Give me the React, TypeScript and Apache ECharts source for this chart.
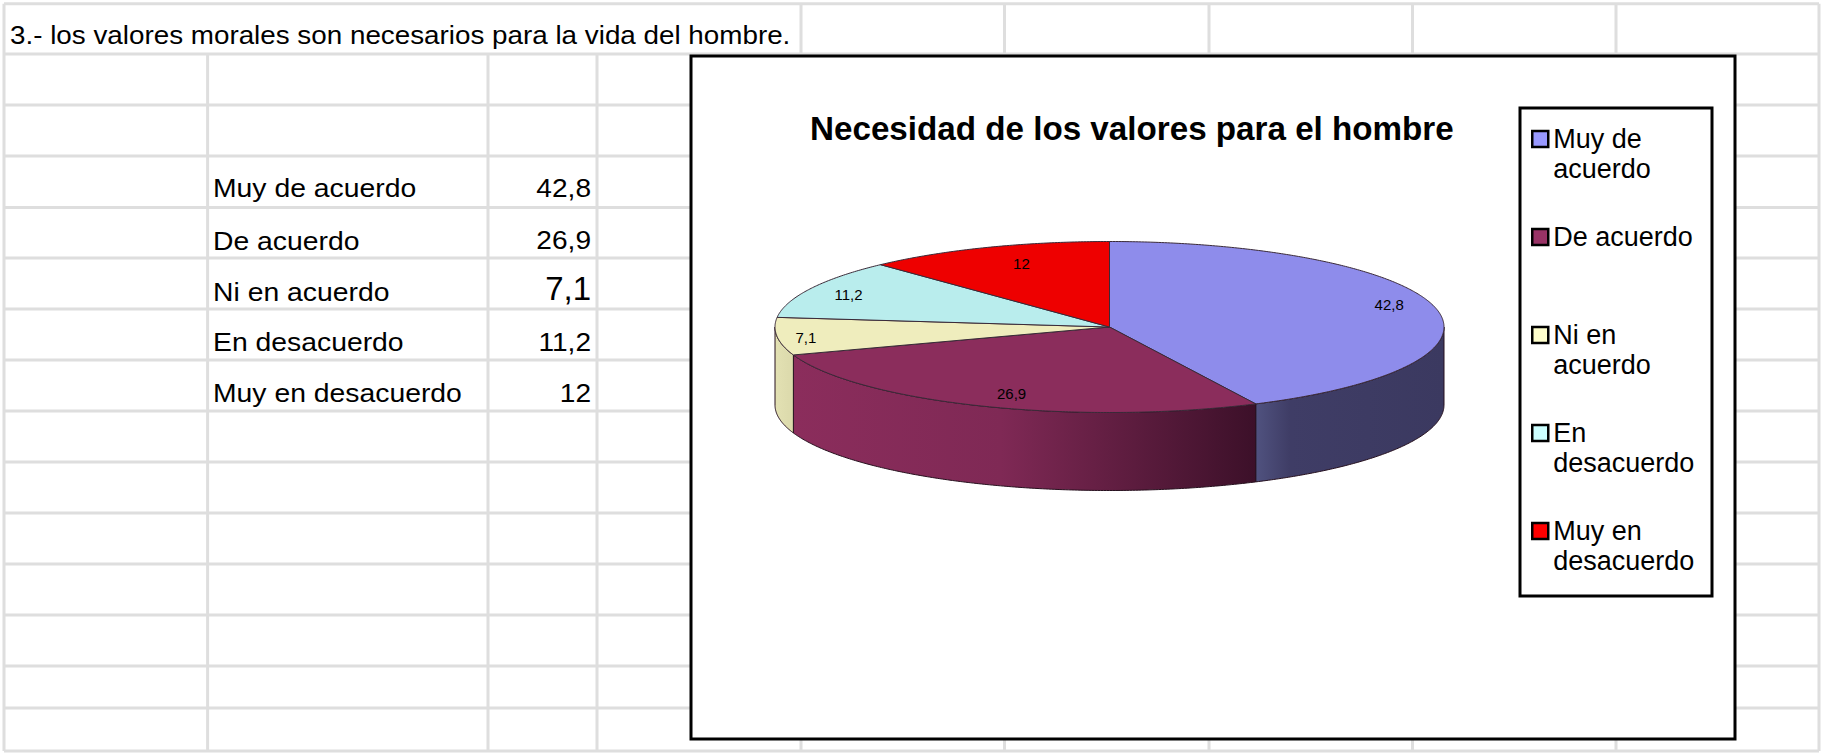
import React, { useEffect, useRef } from "react";
import * as echarts from "echarts";

const categories = ["Muy de acuerdo", "De acuerdo", "Ni en acuerdo", "En desacuerdo", "Muy en desacuerdo"];
const values = [42.8, 26.9, 7.1, 11.2, 12];
const legendTexts = [" \nMuy de\nacuerdo", " \nDe acuerdo\n ", " \nNi en\nacuerdo", " \nEn\ndesacuerdo", " \nMuy en\ndesacuerdo"];
const sheetHeading = "3.- los valores morales son necesarios para la vida del hombre.";
const chartTitle = "Necesidad de los valores para el hombre";

const topColors = ["#8e8ceb", "#8b2d5c", "#efedbd", "#b9eded", "#ee0000"];
const legendColors = ["#9999ff", "#993366", "#ffffcc", "#ccffff", "#ff0000"];
const sideStops: [number, string][][] = [
  [[0, "#50527f"], [0.18, "#3f3d66"], [1, "#3b3960"]],
  [[0, "#8b2d5c"], [0.45, "#7f2955"], [1, "#3c1029"]],
  [[0, "#e3e1b3"], [1, "#dbd9ab"]],
  [[0, "#b9eded"], [1, "#b9eded"]],
  [[0, "#ee0000"], [1, "#ee0000"]],
];

// layout of the sheet
const colX = [207.6, 488, 597];
const colXFull = [4, 801, 1004.5, 1209, 1412.5, 1616, 1819];
const rowY = [3.8, 54, 105, 156, 207.5, 258, 309, 360, 411, 462, 513, 564, 615, 666, 708, 751];
const rowTextY = [188, 240.5, 291.5, 342, 393];
const valueTextY = [188, 240.5, 288, 342, 393];
const valueFont = [26, 26, 33, 26, 26];
const valueScale = [1.08, 1.08, 1, 1.08, 1.08];

// layout of the pie
const CX = 1109.5, CY = 327, RA = 334.5, RB = 85.5, DEPTH = 78;
const labelRX = [0.858, 0.765, 0.913, 0.873, 0.715];
const labelRY = [1.15, 0.848, 1.17, 0.835, 0.805];

const FONT = "'Liberation Sans', Arial, sans-serif";
const GRID = "#dedede";

const total = values.reduce((a, b) => a + b, 0);
const starts = values.map((_, i) => values.slice(0, i).reduce((a, b) => a + b, 0));
const fmt = (v: number) => String(v).replace(".", ",");

const pt = (deg: number, k = 1, dy = 0): [number, number] => {
  const r = (deg * Math.PI) / 180;
  return [CX + RA * k * Math.sin(r), CY - RB * k * Math.cos(r) + dy];
};
const arc = (from: number, to: number, dy = 0) => {
  const out: [number, number][] = [];
  const n = Math.max(2, Math.ceil(Math.abs(to - from) * 2));
  for (let i = 0; i <= n; i++) out.push(pt(from + ((to - from) * i) / n, 1, dy));
  return out;
};

const makeRender = (idx: number) => (_params: any, api: any) => {
  const val = api.value(0) as number;
  const start = api.value(1) as number;
  const a0 = (start / total) * 360;
  const a1 = ((start + val) / total) * 360;
  const mid = (a0 + a1) / 2;
  const children: any[] = [];
  const s0 = Math.max(a0, 90), s1 = Math.min(a1, 270);
  if (s1 > s0) {
    children.push({
      type: "polygon",
      shape: { points: [...arc(s0, s1), ...arc(s1, s0, DEPTH)] },
      style: {
        fill: {
          type: "linear", x: 0, y: 0, x2: 1, y2: 0,
          colorStops: sideStops[idx].map(([offset, color]) => ({ offset, color })),
        },
        stroke: "#26101e", lineWidth: 1,
      },
    });
  }
  children.push({
    type: "polygon",
    shape: { points: [[CX, CY], ...arc(a0, a1)] },
    style: { fill: topColors[idx], stroke: "#3a2a38", lineWidth: 1 },
  });
  const r = (mid * Math.PI) / 180;
  children.push({
    type: "text",
    style: {
      x: CX + RA * labelRX[idx] * Math.sin(r),
      y: CY - RB * labelRY[idx] * Math.cos(r),
      text: fmt(val),
      fill: "#000",
      font: `15px ${FONT}`,
      align: "center",
      verticalAlign: "middle",
    },
  });
  return { type: "group", children };
};

const line = (x1: number, y1: number, x2: number, y2: number) => ({
  type: "line", silent: true,
  shape: { x1, y1, x2, y2 },
  style: { stroke: GRID, lineWidth: 3 },
});
const txt = (text: string, x: number, y: number, size: number, align: string, scaleX = 1) => ({
  type: "text", silent: true,
  x, y, scaleX,
  style: { text, x: 0, y: 0, fill: "#000", font: `${size}px ${FONT}`, align, verticalAlign: "middle" },
});

export default function App() {
  const ref = useRef<HTMLDivElement>(null);
  useEffect(() => {
    const chart = echarts.init(ref.current!, null, { renderer: "svg" });
    const elements: any[] = [
      ...rowY.map((y) => line(4, y, 1819, y)),
      ...colX.map((x) => line(x, rowY[1], x, rowY[rowY.length - 1])),
      ...colXFull.map((x) => line(x, rowY[0], x, rowY[rowY.length - 1])),
      txt(sheetHeading, 10, 35, 26, "left", 1.07),
      ...categories.map((c, i) => txt(c, 213, rowTextY[i], 26, "left", 1.09)),
      ...values.map((v, i) => txt(fmt(v), 591, valueTextY[i], valueFont[i], "right", valueScale[i])),
      {
        type: "rect", silent: true,
        shape: { x: 691, y: 56, width: 1044, height: 683 },
        style: { fill: "#fff", stroke: "#000", lineWidth: 3 },
      },
      {
        type: "rect", silent: true,
        shape: { x: 1520, y: 108, width: 192, height: 488 },
        style: { fill: "#fff", stroke: "#000", lineWidth: 3 },
      },
    ];
    chart.setOption({
      animation: false,
      backgroundColor: "#fff",
      title: {
        text: chartTitle,
        left: 810,
        top: 112,
        padding: 0,
        textStyle: { fontFamily: FONT, fontSize: 33.2, fontWeight: "bold", color: "#000" },
      },
      legend: {
        orient: "vertical",
        left: 1531,
        top: 94,
        padding: 0,
        itemGap: 8,
        itemWidth: 16,
        itemHeight: 16,
        selectedMode: false,
        formatter: (name: string) => legendTexts[categories.indexOf(name)],
        textStyle: { fontFamily: FONT, fontSize: 27, lineHeight: 30, color: "#000" },
        data: categories.map((name, i) => ({
          name,
          icon: "rect",
          itemStyle: { color: legendColors[i], borderColor: "#000", borderWidth: 2.5 },
        })),
      },
      graphic: { elements },
      series: categories.map((name, i) => ({
        type: "custom",
        name,
        coordinateSystem: "none",
        silent: true,
        itemStyle: { color: topColors[i] },
        data: [[values[i], starts[i]]],
        renderItem: makeRender(i),
      })),
    });
    return () => chart.dispose();
  }, []);
  return <div ref={ref} style={{ position: "absolute", left: 0, top: 0, width: 1823, height: 754 }} />;
}
